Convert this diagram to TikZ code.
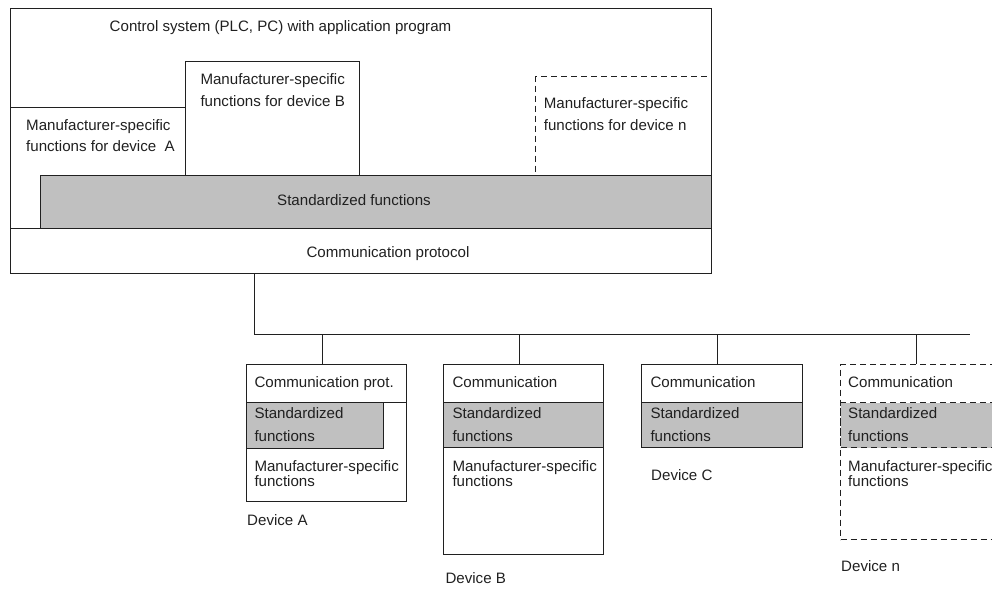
\documentclass[tikz,border=0pt]{standalone}
\usepackage{fontspec}
\setmainfont{Liberation Sans}
\definecolor{stdgray}{HTML}{C0C0C0}
\definecolor{ink}{HTML}{202020}
\begin{document}
\begin{tikzpicture}[x=1pt,y=-1pt,
  line width=1pt, draw=ink,
  box/.style={draw=ink, inner sep=0pt, anchor=north west},
  dbox/.style={box, dash pattern=on 6pt off 4pt},
  grey/.style={fill=stdgray},
  txt/.style={inner sep=0pt, anchor=base west, text=ink, font=\fontsize{15.1}{18}\selectfont},
  ctxt/.style={txt, anchor=base},
]
\useasboundingbox (0,0) rectangle (992,589);
\clip (0,0) rectangle (992,589);

% control system with its function layers
\node[box, minimum width=701pt, minimum height=265pt] (ctl) at (10,8) {};
\node[box, minimum width=175pt, minimum height=121pt] (mfa) at (10,107) {};
\node[box, minimum width=174pt, minimum height=114pt] (mfb) at (185,61) {};
\node[dbox, minimum width=176pt, minimum height=99pt] (mfn) at (535,76) {};
\node[box, grey, minimum width=671pt, minimum height=53pt] (std) at (40,175) {};
\node[box, minimum width=701pt, minimum height=45pt] (comm) at (10,228) {};

\node[ctxt] (ctltxt) at (280.5,31.5) {Control system (PLC, PC) with application program};
\node[txt] (mfb1) at (200,84.3) {Manufacturer-specific};
\node[txt] (mfb2) at (200,106.7) {functions for device B};
\node[txt] (mfa1) at (25.7,130) {Manufacturer-specific};
\node[txt] (mfa2) at (25.7,151.7) {functions for device~~A};
\node[txt] (mfn1) at (543.3,108.3) {Manufacturer-specific};
\node[txt] (mfn2) at (543.3,130) {functions for device n};
\node[ctxt] (stdtxt) at (354,205) {Standardized functions};
\node[ctxt] (commtxt) at (388,257.3) {Communication protocol};

% field bus
\coordinate (tap) at (254,334);
\coordinate (busend) at (970,334);
\draw (comm.south -| tap) -- (tap) -- (busend);

% device A
\node[box, minimum width=160pt, minimum height=137pt] (devA) at (246,364) {};
\node[box, minimum width=160pt, minimum height=38pt] (comA) at (246,364) {};
\node[box, grey, minimum width=137pt, minimum height=46pt] (stdA) at (246,402) {};
% device B
\node[box, minimum width=160pt, minimum height=190pt] (devB) at (443,364) {};
\node[box, minimum width=160pt, minimum height=38pt] (comB) at (443,364) {};
\node[box, grey, minimum width=160pt, minimum height=45pt] (stdB) at (443,402) {};
% device C
\node[box, minimum width=161pt, minimum height=38pt] (devC) at (641,364) {};
\node[box, grey, minimum width=161pt, minimum height=45pt] (stdC) at (641,402) {};
% device n
\node[dbox, minimum width=200pt, minimum height=175pt] (devN) at (840,364) {};
\node[dbox, grey, minimum width=200pt, minimum height=45pt] (stdN) at (840,402) {};

% bus drops
\foreach \d in {devA,devB,devC,devN}
  \draw ([xshift=76.5pt]\d.north west) -- ([xshift=76.5pt]\d.north west |- tap);

% device texts
\node[txt] (a1) at (254,387.7) {Communication prot.};
\node[txt] (a2) at (254,418.3) {Standardized};
\node[txt] (a3) at (254,441.3) {functions};
\node[txt] (a4) at (254,471.7) {Manufacturer-specific};
\node[txt] (a5) at (254,486.7) {functions};
\node[txt] (aname) at (246.7,525) {Device A};

\node[txt] (b1) at (452,387.7) {Communication};
\node[txt] (b2) at (452,418.3) {Standardized};
\node[txt] (b3) at (452,441.3) {functions};
\node[txt] (b4) at (452,471.7) {Manufacturer-specific};
\node[txt] (b5) at (452,486.7) {functions};
\node[txt] (bname) at (445,583.3) {Device B};

\node[txt] (c1) at (650,387.7) {Communication};
\node[txt] (c2) at (650,418.3) {Standardized};
\node[txt] (c3) at (650,441.3) {functions};
\node[txt] (cname) at (650.7,480) {Device C};

\node[txt] (n1) at (847.7,387.7) {Communication};
\node[txt] (n2) at (847.7,418.3) {Standardized};
\node[txt] (n3) at (847.7,441.3) {functions};
\node[txt] (n4) at (847.7,471.7) {Manufacturer-specific};
\node[txt] (n5) at (847.7,486.7) {functions};
\node[txt] (nname) at (840.7,571.7) {Device n};
\end{tikzpicture}
\end{document}
